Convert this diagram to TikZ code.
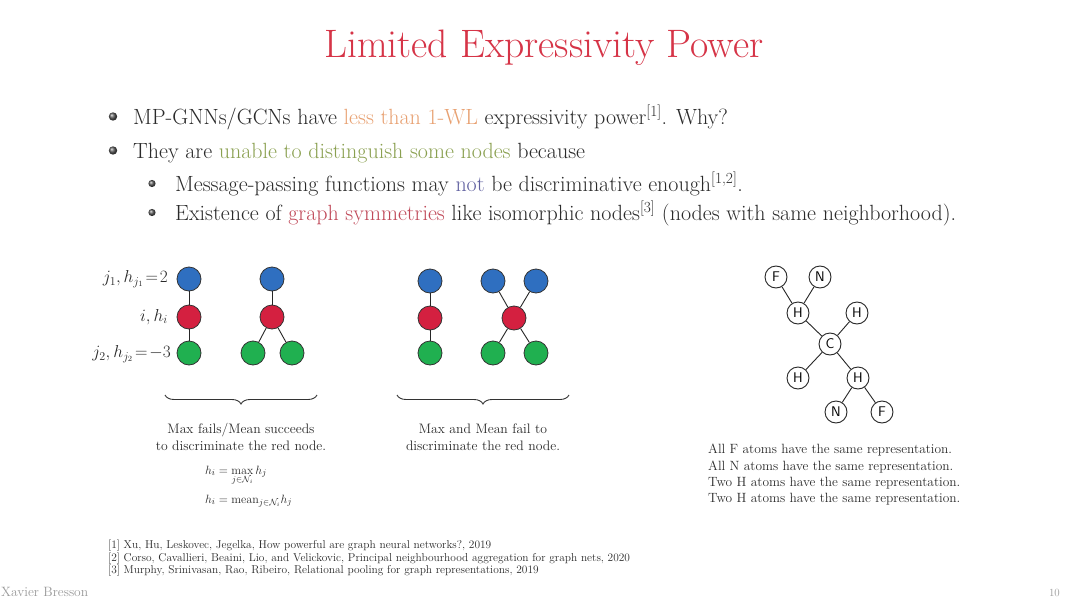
\documentclass[tikz,border=0pt]{standalone}
\usepackage{amsmath,amssymb}
\usetikzlibrary{decorations.pathreplacing}
\definecolor{titlered}{HTML}{D63447}
\definecolor{bodytext}{HTML}{2A2A2A}
\definecolor{orangew}{HTML}{E8A070}
\definecolor{olivew}{HTML}{8AA050}
\definecolor{notblue}{HTML}{6060A0}
\definecolor{symred}{HTML}{C04858}
\definecolor{nblue}{HTML}{2F6FC0}
\definecolor{nred}{HTML}{D42040}
\definecolor{ngreen}{HTML}{20B050}
\tikzset{
  bodyfont/.style={font=\fontsize{22}{26}\selectfont, text=bodytext, inner sep=0pt},
  capfont/.style={font=\fontsize{13.7}{16.5}\selectfont, text=bodytext, align=center, inner sep=0pt},
  lblfont/.style={font=\fontsize{16.5}{16.5}\selectfont, text=bodytext, inner sep=0pt},
  bnode/.style={circle, draw=black!80, line width=0.8pt, minimum size=24pt, inner sep=0pt},
  blue node/.style={bnode, fill=nblue},
  red node/.style={bnode, fill=nred},
  green node/.style={bnode, fill=ngreen},
  atom/.style={circle, draw=black!85, line width=0.9pt, fill=white, minimum size=22pt, inner sep=0pt, font=\sffamily\fontsize{14}{14}\selectfont},
  edge/.style={draw=black!85, line width=0.9pt},
  bigball/.style={ball color=gray!70!black},
  bracestyle/.style={decorate, decoration={brace, mirror, amplitude=9pt}, line width=0.9pt, draw=black!80},
  formfont/.style={font=\fontsize{12.5}{14}\selectfont, text=bodytext, inner sep=0pt},
}
\begin{document}
\begin{tikzpicture}[x=1pt, y=-1pt]
\useasboundingbox (0,0) rectangle (1080,608);
\fill[white] (0,0) rectangle (1080,608);

% title
\node[font=\fontsize{39.7}{44}\selectfont, text=titlered, inner sep=0pt] (title) at (544,48) {Limited Expressivity Power};

% bullets
\shade[bigball] (113,116.5) circle (4.2);
\node[bodyfont, anchor=base west] (b1) at (133,124) {MP-GNNs/GCNs have \textcolor{orangew}{less than 1-WL} expressivity power\textsuperscript{[1]}. Why?};
\shade[bigball] (113,150.5) circle (4.2);
\node[bodyfont, anchor=base west] (b2) at (133,158) {They are \textcolor{olivew}{unable to distinguish some nodes} because};
\shade[bigball] (152,183.5) circle (3.6);
\node[bodyfont, anchor=base west] (b3) at (175,191) {Message-passing functions may \textcolor{notblue}{not} be discriminative enough\textsuperscript{[1,2]}.};
\shade[bigball] (152,212.5) circle (3.6);
\node[bodyfont, anchor=base west] (b4) at (175,220) {Existence of \textcolor{symred}{graph symmetries} like isomorphic nodes\textsuperscript{[3]} (nodes with same neighborhood).};

% graph A
\node[blue node] (a1) at (189,279) {};
\node[red node] (a2) at (189,317) {};
\node[green node] (a3) at (189,353) {};
\draw[edge] (a1) -- (a2);
\draw[edge] (a2) -- (a3);
\node[lblfont, anchor=east] (la1) at (168,279) {$j_1, h_{j_1}\!=\!2$};
\node[lblfont, anchor=east] (la2) at (168,317) {$i, h_i$};
\node[lblfont, anchor=east] (la3) at (171,354) {$j_2, h_{j_2}\!=\!-3$};

% graph B
\node[blue node] (bb1) at (272,279) {};
\node[red node] (bb2) at (272,317) {};
\node[green node] (bb3) at (253,353) {};
\node[green node] (bb4) at (292,353) {};
\draw[edge] (bb1) -- (bb2);
\draw[edge] (bb2) -- (bb3);
\draw[edge] (bb2) -- (bb4);

% graph C
\node[blue node] (c1) at (430,281) {};
\node[red node] (c2) at (430,318) {};
\node[green node] (c3) at (430,353) {};
\draw[edge] (c1) -- (c2);
\draw[edge] (c2) -- (c3);

% graph D
\node[blue node] (d1) at (493,281) {};
\node[blue node] (d2) at (536,281) {};
\node[red node] (d3) at (514,318) {};
\node[green node] (d4) at (493,353) {};
\node[green node] (d5) at (536,353) {};
\draw[edge] (d1) -- (d3);
\draw[edge] (d2) -- (d3);
\draw[edge] (d3) -- (d4);
\draw[edge] (d3) -- (d5);

% braces
\coordinate (br1s) at (165,395);
\coordinate (br1e) at (317,395);
\draw[bracestyle] (br1s) -- (br1e);
\coordinate (br2s) at (397,395);
\coordinate (br2e) at (569,395);
\draw[bracestyle] (br2s) -- (br2e);

\node[capfont] (cap1) at (241,437) {Max fails/Mean succeeds\\to discriminate the red node.};
\node[capfont] (cap2) at (483,437) {Max and Mean fail to\\discriminate the red node.};
\node[formfont, anchor=base west] (f1) at (205,474) {$h_i = \max\limits_{j\in\mathcal{N}_i} h_j$};
\node[formfont, anchor=base west] (f2) at (205,503) {$h_i = \mathrm{mean}_{j\in\mathcal{N}_i} h_j$};

% molecule
\node[atom] (F1) at (776,277) {F};
\node[atom] (N1) at (820,277) {N};
\node[atom] (H1) at (798,313) {H};
\node[atom] (H2) at (857,313) {H};
\node[atom] (C) at (830,344) {C};
\node[atom] (H3) at (798,378) {H};
\node[atom] (H4) at (858,378) {H};
\node[atom] (N2) at (836,412) {N};
\node[atom] (F2) at (882,412) {F};
\draw[edge] (F1) -- (H1);
\draw[edge] (N1) -- (H1);
\draw[edge] (H1) -- (C);
\draw[edge] (H2) -- (C);
\draw[edge] (C) -- (H3);
\draw[edge] (C) -- (H4);
\draw[edge] (H4) -- (N2);
\draw[edge] (H4) -- (F2);

\node[font=\fontsize{13.4}{16.4}\selectfont, text=bodytext, align=left, anchor=north west, inner sep=0pt] (mcap) at (708,444) {All F atoms have the same representation.\\All N atoms have the same representation.\\Two H atoms have the same representation.\\Two H atoms have the same representation.};

% footnotes
\node[font=\fontsize{11.4}{12.6}\selectfont, text=bodytext, align=left, anchor=north west, inner sep=0pt] (refs) at (108,540) {[1] Xu, Hu, Leskovec, Jegelka, How powerful are graph neural networks?, 2019\\{}%
[2] Corso, Cavallieri, Beaini, Lio, and Velickovic, Principal neighbourhood aggregation for graph nets, 2020\\{}%
[3] Murphy, Srinivasan, Rao, Ribeiro, Relational pooling for graph representations, 2019};

% footer
\node[font=\fontsize{13.5}{15}\selectfont, text=gray!80, anchor=base west, inner sep=0pt] (author) at (1,596) {Xavier Bresson};
\node[font=\fontsize{11}{13}\selectfont, text=gray!80, anchor=base east, inner sep=0pt] (page) at (1060,596) {10};
\end{tikzpicture}
\end{document}
